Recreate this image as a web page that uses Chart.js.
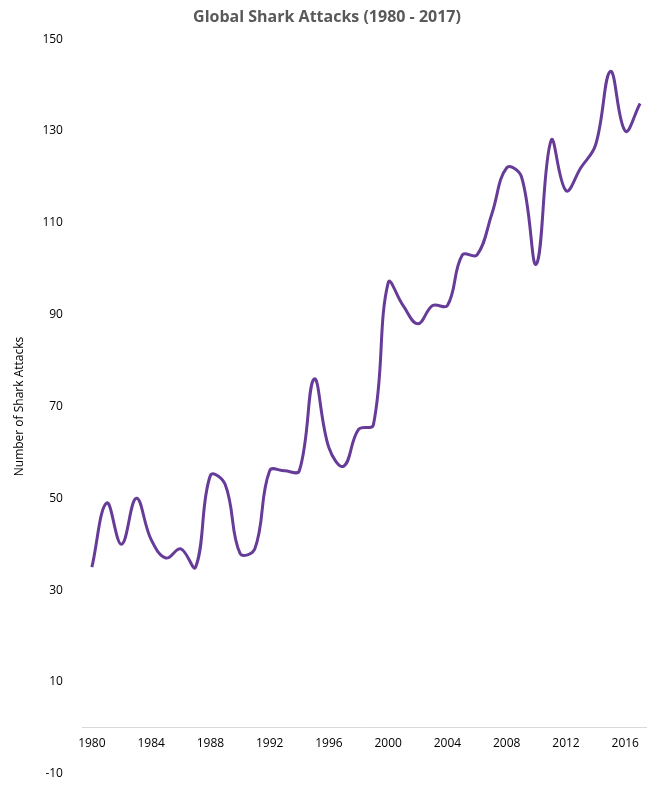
<!DOCTYPE html>
<html><head><meta charset="utf-8">
<script src="https://cdn.jsdelivr.net/npm/chart.js@4"></script>
<style>html,body{margin:0;padding:0;background:#fff}#w{width:662px;height:793px}</style>
</head><body><div id="w"><canvas id="c"></canvas></div>
<script>
const years = [];
for (let y = 1980; y <= 2017; y++) years.push(y);
const attacks = [35,49,40,50,41,37,39,35,55,53,38,39,56,56,56,76,61,57,65,66,97,92,88,92,92,103,103,112,122,120,101,128,117,122,127,143,130,136];
const xTicks = [1980,1984,1988,1992,1996,2000,2004,2008,2012,2016];
const yTicks = [-10,10,30,50,70,90,110,130,150];
new Chart(document.getElementById('c'), {
  type: 'line',
  data: { datasets: [{ data: years.map((y,i)=>({x:y,y:attacks[i]})), borderColor:'#663c98', borderWidth:3, pointRadius:0, tension:0.4, fill:false }] },
  options: {
    responsive:true, maintainAspectRatio:false, animation:false,
    layout:{padding:{left:8,right:16,top:0,bottom:4}},
    plugins:{legend:{display:false},tooltip:{enabled:false},
      title:{display:true,text:'Global Shark Attacks (1980 - 2017)',color:'#595959',font:{family:'Open Sans',size:16,weight:'bold'},padding:{top:8,bottom:12}}},
    scales:{
      x:{type:'linear',min:1979.4,max:2017.4,position:{y:0},
        afterBuildTicks:a=>{a.ticks=xTicks.map(v=>({value:v}));},
        grid:{display:false,drawTicks:false},border:{color:'#d9d9d9',width:1},
        ticks:{color:'#000',font:{family:'Open Sans',size:12},padding:8,maxRotation:0,callback:v=>String(v)}},
      y:{min:-10,max:150,
        afterBuildTicks:a=>{a.ticks=yTicks.map(v=>({value:v}));},
        grid:{display:false},border:{display:false},
        ticks:{color:'#000',font:{family:'Open Sans',size:12},padding:12},
        title:{display:true,text:'Number of Shark Attacks',color:'#000',font:{family:'Open Sans',size:12}}}
    }
  }
});
</script></body></html>
